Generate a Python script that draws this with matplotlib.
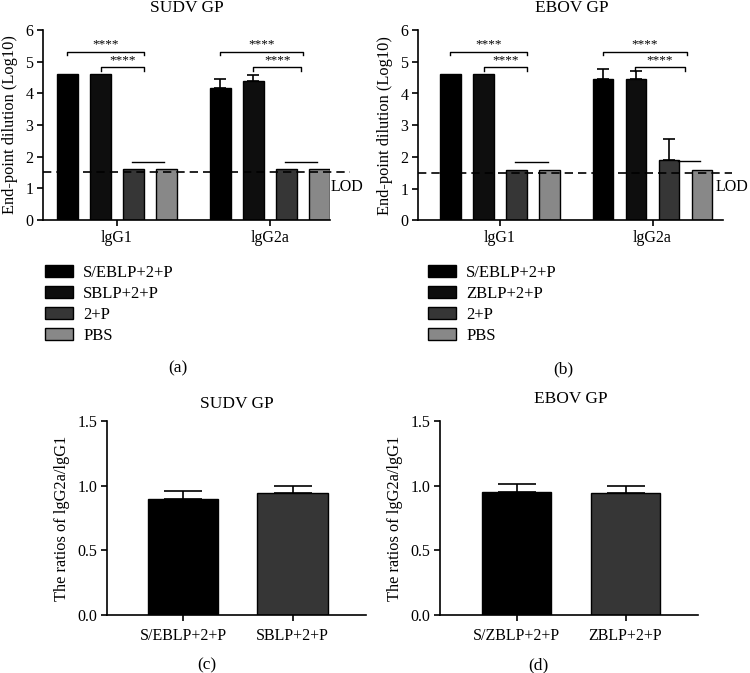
import numpy as np
import matplotlib
matplotlib.use('Agg')
import matplotlib.pyplot as plt

plt.rcParams['font.family'] = ['Liberation Serif', 'DejaVu Serif']
plt.rcParams['font.size'] = 11.5

# ---- data ----
groups = ['lgG1', 'lgG2a']

sudv_labels = ['S/EBLP+2+P', 'SBLP+2+P', '2+P', 'PBS']
sudv_igg1 = [4.6, 4.6, 1.6, 1.6]
sudv_igg1_sd = [0, 0, 0, 0]
sudv_igg2a = [4.16, 4.39, 1.6, 1.6]
sudv_igg2a_sd = [0.28, 0.20, 0, 0]

ebov_labels = ['S/EBLP+2+P', 'ZBLP+2+P', '2+P', 'PBS']
ebov_igg1 = [4.6, 4.6, 1.6, 1.6]
ebov_igg1_sd = [0, 0, 0, 0]
ebov_igg2a = [4.45, 4.47, 1.89, 1.6]
ebov_igg2a_sd = [0.31, 0.24, 0.69, 0]

lod_sudv = 1.53
lod_ebov = 1.51

ratio_c_labels = ['S/EBLP+2+P', 'SBLP+2+P']
ratio_c = [0.90, 0.94]
ratio_c_sd = [0.06, 0.06]

ratio_d_labels = ['S/ZBLP+2+P', 'ZBLP+2+P']
ratio_d = [0.95, 0.94]
ratio_d_sd = [0.06, 0.06]

# significance brackets: (x0, x1, y, text) in group units
sig_sudv = [(-0.33, 0.175, 5.32, '****'), (-0.105, 0.175, 4.82, '****'), (0.10, 0.31, 1.83, ''),
            (0.675, 1.215, 5.32, '****'), (0.89, 1.205, 4.82, '****'), (1.10, 1.31, 1.83, '')]
sig_ebov = [(-0.33, 0.175, 5.32, '****'), (-0.105, 0.175, 4.82, '****'), (0.10, 0.315, 1.83, ''),
            (0.675, 1.225, 5.32, '****'), (0.885, 1.213, 4.82, '****'), (1.167, 1.31, 1.88, '')]

bar_colors = ['#000000', '#0e0e0e', '#363636', '#888888']
ratio_colors = ['#000000', '#363636']

W, H = 750, 673
fig = plt.figure(figsize=(W / 100, H / 100), dpi=100)


def px_axes(l, t, r, b):
    return fig.add_axes([l / W, 1 - b / H, (r - l) / W, (b - t) / H])


def style(ax):
    for s in ['top', 'right']:
        ax.spines[s].set_visible(False)
    for s in ['left', 'bottom']:
        ax.spines[s].set_linewidth(1.2)
    ax.tick_params(direction='out', length=4, width=1.2, pad=3, labelsize=11.5)


def top_panel(ax, igg1, igg1_sd, igg2a, igg2a_sd, lod, sig, xlim, lod_end, lod_x):
    offs = np.array([-1.5, -0.5, 0.5, 1.5]) * 0.216
    width = 0.135
    vals = [igg1, igg2a]
    sds = [igg1_sd, igg2a_sd]
    for g in range(2):
        for i in range(4):
            x = g + offs[i]
            ax.bar(x, vals[g][i], width=width, color=bar_colors[i], edgecolor='black',
                   linewidth=1.0, zorder=2)
            if sds[g][i] > 0:
                ax.errorbar(x, vals[g][i], yerr=[[0], [sds[g][i]]], fmt='none', ecolor='black',
                            elinewidth=1.2, capsize=4.5, capthick=1.2, zorder=3)
    ax.plot([xlim[0], lod_end], [lod, lod], ls=(0, (5, 3)), color='black', lw=1.2,
            clip_on=False, zorder=4)
    ax.text(lod_x, 1.04, 'LOD', ha='left', va='center', fontsize=11.5)
    for x0, x1, y, t in sig:
        if t:
            ax.plot([x0, x0, x1, x1], [y - 0.1, y, y, y - 0.1], color='black', lw=1.0)
            ax.text((x0 + x1) / 2, y + 0.03, t, ha='center', va='bottom', fontsize=9.5)
        else:
            ax.plot([x0, x1], [y, y], color='black', lw=1.0)
    ax.set_xlim(*xlim)
    ax.set_ylim(0, 6)
    ax.set_yticks(range(7))
    ax.set_xticks([0, 1])
    ax.set_xticklabels(groups, fontsize=12.5)
    ax.tick_params(axis='x', pad=6)
    ax.set_ylabel('End-point dilution (Log10)', fontsize=11.8, labelpad=5)
    style(ax)


ax_a = px_axes(43, 30, 330, 220)
top_panel(ax_a, sudv_igg1, sudv_igg1_sd, sudv_igg2a, sudv_igg2a_sd, lod_sudv, sig_sudv,
          ((43 - 117) / 153, (330 - 117) / 153), (350 - 117) / 153, (331 - 117) / 153)
ax_b = px_axes(418, 30, 723, 220.5)
top_panel(ax_b, ebov_igg1, ebov_igg1_sd, ebov_igg2a, ebov_igg2a_sd, lod_ebov, sig_ebov,
          ((418 - 500) / 152.5, (723 - 500) / 152.5), (732 - 500) / 152.5, (716 - 500) / 152.5)

fig.text(187 / W, 1 - 8 / H, 'SUDV GP', ha='center', va='center', fontsize=12.5)
fig.text(572 / W, 1 - 8 / H, 'EBOV GP', ha='center', va='center', fontsize=12.5)

# legends
for ax, labels, lx in [(ax_a, sudv_labels, 45), (ax_b, ebov_labels, 428)]:
    handles = [plt.Rectangle((0, 0), 1, 1, facecolor=c, edgecolor='black', linewidth=1.0)
               for c in bar_colors]
    fig.legend(handles, labels, loc='upper left', bbox_to_anchor=(lx / W, 1 - 265 / H),
               frameon=False, borderpad=0, borderaxespad=0, fontsize=12,
               handlelength=1.7, handleheight=0.72, handletextpad=0.6, labelspacing=0.3)

fig.text(178 / W, 1 - 368 / H, '(a)', ha='center', va='center', fontsize=12.5)
fig.text(563 / W, 1 - 369 / H, '(b)', ha='center', va='center', fontsize=12.5)


def ratio_panel(ax, labels, vals, sds, xlim):
    x = np.arange(len(vals))
    ax.bar(x, vals, width=0.64, color=ratio_colors, edgecolor='black', linewidth=1.0, zorder=2)
    ax.errorbar(x, vals, yerr=[np.zeros(len(sds)), sds], fmt='none', ecolor='black',
                elinewidth=1.2, capsize=13.5, capthick=1.2, zorder=3)
    ax.set_xlim(*xlim)
    ax.set_ylim(0, 1.5)
    ax.set_yticks([0.0, 0.5, 1.0, 1.5])
    ax.set_yticklabels(['0.0', '0.5', '1.0', '1.5'])
    ax.set_xticks(x)
    ax.set_xticklabels(labels, fontsize=12.5)
    ax.set_ylabel('The ratios of lgG2a/lgG1', fontsize=11.8, labelpad=5)
    style(ax)
    ax.tick_params(axis='x', pad=5)


ax_c = px_axes(107, 421, 366, 615)
ratio_panel(ax_c, ratio_c_labels, ratio_c, ratio_c_sd, ((107 - 183) / 109.5, (366 - 183) / 109.5))
ax_d = px_axes(440, 421, 698, 615)
ratio_panel(ax_d, ratio_d_labels, ratio_d, ratio_d_sd, ((440 - 516.5) / 109, (698 - 516.5) / 109))

fig.text(237 / W, 1 - 404 / H, 'SUDV GP', ha='center', va='center', fontsize=12.5)
fig.text(571 / W, 1 - 399 / H, 'EBOV GP', ha='center', va='center', fontsize=12.5)
fig.text(207 / W, 1 - 665 / H, '(c)', ha='center', va='center', fontsize=12.5)
fig.text(538 / W, 1 - 665 / H, '(d)', ha='center', va='center', fontsize=12.5)

fig.savefig('out.png', dpi=100)
